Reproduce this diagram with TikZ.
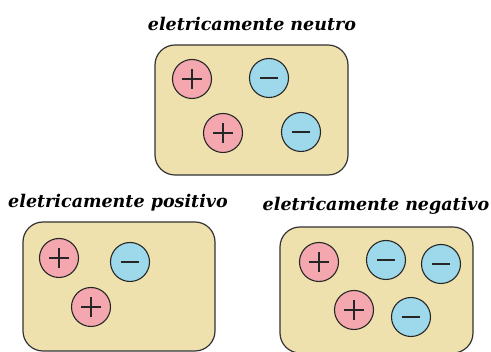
\documentclass[tikz,border=0pt]{standalone}
\usepackage{fontspec}
\setmainfont{Liberation Serif}
\newfontfamily\titlefont{DejaVu Serif}
\begin{document}
\begin{tikzpicture}[x=1pt,y=-1pt,
  box/.style={draw=black!80,line width=1.2pt,fill=tan,rounded corners=20pt,inner sep=0pt},
  pcharge/.style={circle,draw=black!85,line width=1.1pt,fill=pinkc,minimum size=39pt,inner sep=0pt,
    path picture={\draw[line width=1.2pt,black!85] ([xshift=-10pt]path picture bounding box.center) -- ([xshift=10pt]path picture bounding box.center)
      ([yshift=-10pt]path picture bounding box.center) -- ([yshift=10pt]path picture bounding box.center);}},
  ncharge/.style={circle,draw=black!85,line width=1.1pt,fill=bluec,minimum size=39pt,inner sep=0pt,
    path picture={\draw[line width=1.2pt,black!85] ([xshift=-9pt]path picture bounding box.center) -- ([xshift=9pt]path picture bounding box.center);}},
  title/.style={font=\titlefont\fontsize{17.5}{20}\selectfont\bfseries\itshape,inner sep=0pt}]
\definecolor{tan}{HTML}{EEE1AE}
\definecolor{pinkc}{HTML}{F4A7AE}
\definecolor{bluec}{HTML}{9DD9EA}
\useasboundingbox (0,0) rectangle (491,352);
% top
\node[title] (t1) at (252,24) {eletricamente neutro};
\node[box,minimum width=193pt,minimum height=130pt] (b1) at (251.5,110) {};
\node[pcharge] (a1) at (192,79) {};
\node[ncharge] (a2) at (269,78) {};
\node[pcharge] (a3) at (223,133) {};
\node[ncharge] (a4) at (301,132) {};
% bottom left
\node[title] (t2) at (118,203) {eletricamente positivo};
\node[box,minimum width=192pt,minimum height=129pt] (b2) at (119,286.5) {};
\node[pcharge] (c1) at (59,258) {};
\node[ncharge] (c2) at (130,262) {};
\node[pcharge] (c3) at (91,307) {};
% bottom right
\node[title] (t3) at (376,206) {eletricamente negativo};
\node[box,minimum width=193pt,minimum height=126pt] (b3) at (376.5,290) {};
\node[pcharge] (d1) at (319,262) {};
\node[ncharge] (d2) at (386,260) {};
\node[ncharge] (d3) at (441,264) {};
\node[pcharge] (d4) at (354,310) {};
\node[ncharge] (d5) at (411,317) {};
\end{tikzpicture}
\end{document}
